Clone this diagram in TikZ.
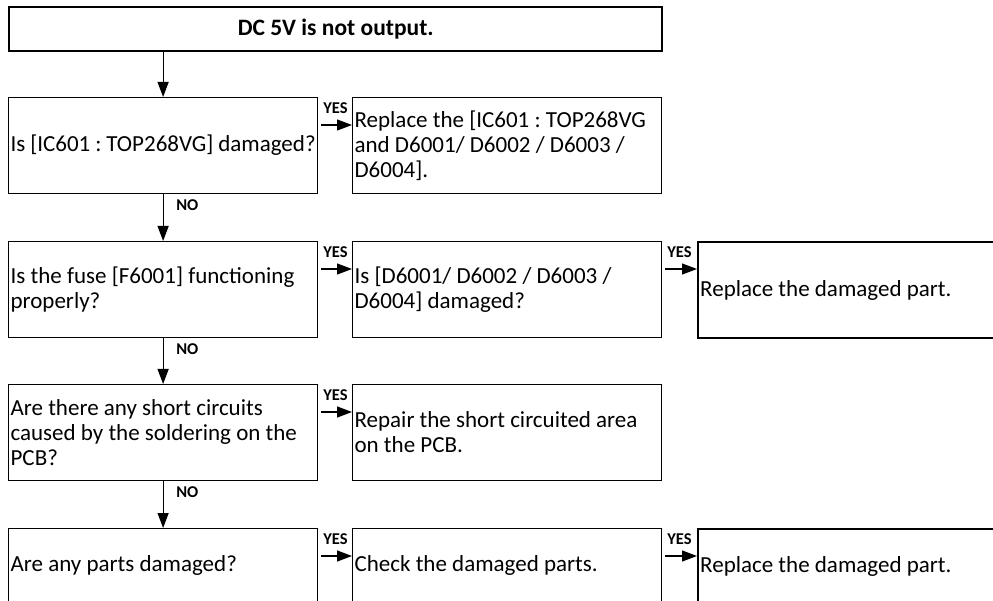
\documentclass[tikz,border=0pt]{standalone}
\usepackage{fontspec}
\setmainfont{Carlito}
\usetikzlibrary{arrows.meta}
\newcommand{\boxfont}{\fontsize{23}{25}\selectfont\frenchspacing}
\newcommand{\titlefont}{\fontsize{23.5}{26}\selectfont\bfseries}
\newcommand{\lblfont}{\fontsize{16.5}{18}\selectfont\bfseries}
\tikzstyle{stepbox}=[draw=black, line width=1.2pt, rectangle, anchor=north west,
    inner xsep=2pt, inner ysep=0pt, minimum height=96pt, text width=305pt,
    align=flush left, font=\boxfont]
\tikzstyle{fixbox}=[stepbox, line width=2.4pt, text width=306pt]
\tikzstyle{flow}=[line width=1.2pt, -{Triangle[length=15pt,width=11pt]}]
\tikzstyle{yesno}=[inner sep=0pt, anchor=north west, font=\lblfont]

\begin{document}
\begin{tikzpicture}[x=1pt,y=-1pt]
  \clip (0,0) rectangle (993,601);
  \node[fixbox, minimum height=44pt, text width=649pt, align=flush center, font=\titlefont] (top) at (8,6) {DC 5V is not output.};

  \node[stepbox] (q1) at (8,97) {Is [IC601 : TOP268VG] damaged?};
  \node[stepbox] (a1) at (352,97) {Replace the [IC601 : TOP268VG\\and D6001/ D6002 / D6003 /\\D6004].};

  \node[stepbox] (q2) at (8,241) {Is the fuse [F6001] functioning\\properly?};
  \node[stepbox] (a2) at (352,241) {Is [D6001/ D6002 / D6003 /\\D6004] damaged?};
  \node[fixbox] (r2) at (697,241) {Replace the damaged part.};

  \node[stepbox] (q3) at (8,384) {Are there any short circuits\\caused by the soldering on the\\PCB?};
  \node[stepbox] (a3) at (352,384) {Repair the short circuited area\\on the PCB.};

  \node[stepbox, minimum height=74pt] (q4) at (8,528) {Are any parts damaged?};
  \node[stepbox, minimum height=74pt] (a4) at (352,528) {Check the damaged parts.};
  \node[fixbox, minimum height=74pt] (r4) at (697,528) {Replace the damaged part.};

  \draw[flow] (top.south -| q1.north) -- (q1.north);
  \draw[flow] (q1.south) -- (q2.north);
  \draw[flow] (q2.south) -- (q3.north);
  \draw[flow] (q3.south) -- (q4.north);
  \node[yesno] (no1) at ([xshift=13pt,yshift=-5pt]q1.south) {NO};
  \node[yesno] (no2) at ([xshift=13pt,yshift=-5pt]q2.south) {NO};
  \node[yesno] (no3) at ([xshift=13pt,yshift=-5pt]q3.south) {NO};

  \draw[flow] ([xshift=3pt,yshift=-28pt]q1.north east) -- ([yshift=-28pt]a1.north west);
  \draw[flow] ([xshift=3pt,yshift=-28pt]q2.north east) -- ([yshift=-28pt]a2.north west);
  \draw[flow] ([xshift=3pt,yshift=-28pt]a2.north east) -- ([yshift=-28pt]r2.north west);
  \draw[flow] ([xshift=3pt,yshift=-28pt]q3.north east) -- ([yshift=-28pt]a3.north west);
  \draw[flow] ([xshift=3pt,yshift=-28pt]q4.north east) -- ([yshift=-28pt]a4.north west);
  \draw[flow] ([xshift=3pt,yshift=-28pt]a4.north east) -- ([yshift=-28pt]r4.north west);
  \node[yesno] (yes1) at ([xshift=5pt,yshift=-5pt]q1.north east) {YES};
  \node[yesno] (yes2) at ([xshift=5pt,yshift=-5pt]q2.north east) {YES};
  \node[yesno] (yes3) at ([xshift=5pt,yshift=-5pt]a2.north east) {YES};
  \node[yesno] (yes4) at ([xshift=5pt,yshift=-5pt]q3.north east) {YES};
  \node[yesno] (yes5) at ([xshift=5pt,yshift=-5pt]q4.north east) {YES};
  \node[yesno] (yes6) at ([xshift=5pt,yshift=-5pt]a4.north east) {YES};
\end{tikzpicture}
\end{document}
